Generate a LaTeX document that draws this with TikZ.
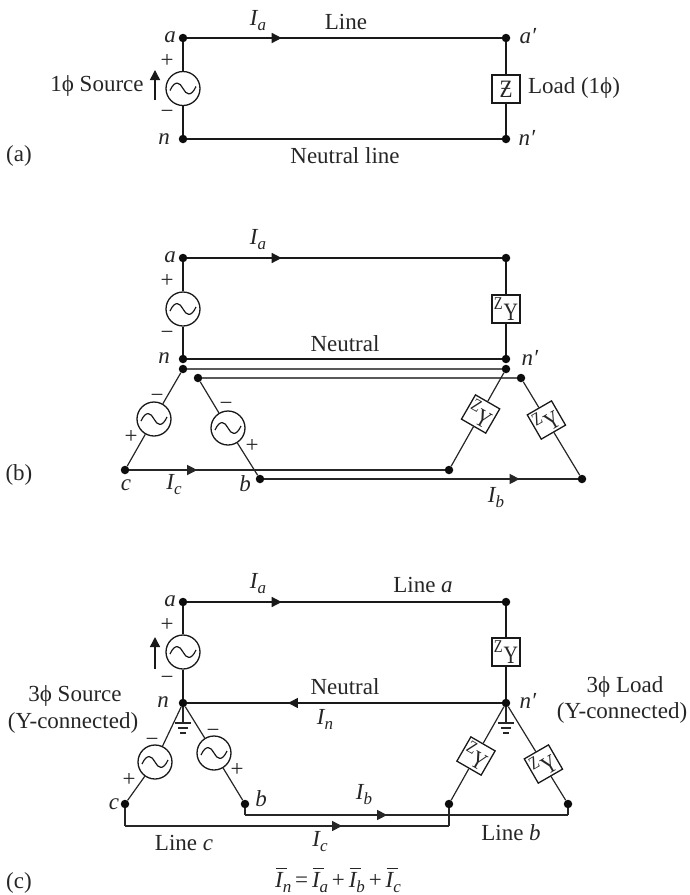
\documentclass[tikz,border=0pt]{standalone}
\usepackage{fontspec}
\setmainfont{Liberation Serif}
\usetikzlibrary{arrows.meta,decorations.markings}
\newcommand\subtxt[1]{\raisebox{-5pt}{\fontsize{17}{17}\selectfont\itshape #1}}
\newcommand\Isub[1]{{\itshape I}\subtxt{#1}}
\newcommand\Ibar[1]{\leavevmode\rlap{\raisebox{18pt}{\kern1pt\rule{11pt}{1pt}}}{\itshape I}\subtxt{#1}}
\newcommand\phisym{ϕ}
\tikzset{
  x=1pt,y=-1pt,
  wire/.style={line width=1.5pt,black!90},
  thin wire/.style={line width=1.2pt,black!85},
  gray wire/.style={line width=1.4pt,black!65},
  dotn/.style={circle,fill=black!95,draw=none,minimum size=8.5pt,inner sep=0pt},
  lbl/.style={inner sep=0pt,text=black!85,font=\fontsize{23}{26}\selectfont,align=center},
  src/.style={circle,draw=black!90,line width=1.3pt,minimum size=34pt,inner sep=0pt,
    path picture={\draw[line width=1.2pt,black!90,shift={(path picture bounding box.center)}]
      (-13,2) .. controls (-8,-9) and (-3,-6) .. (0,0) .. controls (3,6) and (8,9) .. (13,-2);}},
  zbox/.style={rectangle,draw=black!90,line width=1.3pt,minimum size=28pt,inner sep=0pt,
    text=black!85,font=\fontsize{25}{25}\selectfont},
  midarrow/.style={postaction={decorate},decoration={markings,
    mark=at position #1 with {\arrow{Triangle[length=10pt,width=10pt]}}}},
  uparrow/.style={line width=1.5pt,black!90,-{Triangle[length=10pt,width=10pt]}},
}
\newcommand\zy{\raisebox{11pt}{\fontsize{18}{18}\selectfont\scalebox{0.8}[1]{Z}}\kern1pt\scalebox{0.8}[1]{Y}}
\begin{document}
\begin{tikzpicture}
\useasboundingbox (0,0) rectangle (689,895);
%% (a)
\node[dotn] (aa) at (183,38) {};
\node[dotn] (an) at (183,139) {};
\node[dotn] (aap) at (506,38) {};
\node[dotn] (anp) at (506,139) {};
\node[src] (as) at (183,88.5) {};
\node[zbox] (az) at (506,89) {\scalebox{0.85}[1]{Ƶ}};
\draw[wire] (aa) -- (as) -- (an);
\draw[wire] (aap) -- (az) -- (anp);
\draw[wire,midarrow=0.30] (aa) -- (aap);
\draw[wire] (an) -- (anp);
\coordinate (ar1) at (155,100); \coordinate (ar2) at (155,70);
\draw[uparrow] (ar1) -- (ar2);
\node[lbl] (t1) at (170,37) {\itshape a};
\node[lbl] (t2) at (164,139) {\itshape n};
\node[lbl] (t3) at (528,36) {\itshape a′};
\node[lbl] (t4) at (527,138) {\itshape n′};
\node[lbl] (t5) at (167,61) {+};
\node[lbl] (t6) at (167,114) {−};
\node[lbl] (t7) at (97,86) {1\phisym\ Source};
\node[lbl] (t8) at (574,88) {Load (1\phisym)};
\node[lbl] (t9) at (258,21) {\Isub{a}};
\node[lbl] (t10) at (346,22) {Line};
\node[lbl] (t11) at (345,156) {Neutral line};
\node[lbl] (t12) at (19,156) {(a)};
%% (b)
\node[dotn] (ba) at (183,258) {};
\node[dotn] (bn) at (183,359) {};
\node[dotn] (bn2) at (183,369) {};
\node[dotn] (bn3) at (198,378) {};
\node[dotn] (bc) at (125,470) {};
\node[dotn] (bb) at (260,479) {};
\node[dotn] (bap) at (506,258) {};
\node[dotn] (bnp) at (506,359) {};
\node[dotn] (bnp2) at (506,369) {};
\node[dotn] (bnp3) at (521,378) {};
\node[dotn] (bl1) at (449,470) {};
\node[dotn] (bl2) at (582,479) {};
\node[src] (bsa) at (183,309) {};
\node[src] (bsc) at (154,419) {};
\node[src] (bsb) at (228,428) {};
\node[zbox] (bza) at (506,309) {\zy};
\node[zbox,rotate=-30] (bzc) at (480.6,414) {\zy};
\node[zbox,rotate=30] (bzb) at (546.4,420) {\zy};
\draw[wire] (ba) -- (bsa) -- (bn);
\draw[wire] (bap) -- (bza) -- (bnp);
\draw[wire,midarrow=0.30] (ba) -- (bap);
\draw[wire] (bn) -- (bnp);
\draw[gray wire] (bn2) -- (bnp2);
\draw[gray wire] (bn3) -- (bnp3);
\draw[thin wire] (bn2) -- (bsc) -- (bc);
\draw[thin wire] (bn3) -- (bsb) -- (bb);
\draw[thin wire] (bnp2) -- (bzc) -- (bl1);
\draw[thin wire] (bnp3) -- (bzb) -- (bl2);
\draw[thin wire,midarrow=0.215] (bc) -- (bl1);
\draw[thin wire,midarrow=0.815] (bb) -- (bl2);
\node[lbl] (u1) at (170,257) {\itshape a};
\node[lbl] (u2) at (164,358) {\itshape n};
\node[lbl] (u3) at (167,281) {+};
\node[lbl] (u4) at (167,335) {−};
\node[lbl] (u5) at (530,358) {\itshape n′};
\node[lbl] (u6) at (258,240) {\Isub{a}};
\node[lbl] (u7) at (345,344) {Neutral};
\node[lbl] (u8) at (157,398) {−};
\node[lbl] (u9) at (131,437) {+};
\node[lbl] (u10) at (226,406) {−};
\node[lbl] (u11) at (252,446) {+};
\node[lbl] (u12) at (126,485) {\itshape c};
\node[lbl] (u13) at (174,485) {\Isub{c}};
\node[lbl] (u14) at (245,484) {\itshape b};
\node[lbl] (u15) at (496,498) {\Isub{b}};
\node[lbl] (u16) at (19,475) {(b)};
%% (c)
\node[dotn] (ca) at (183,602) {};
\node[dotn] (cn) at (183,703) {};
\node[dotn] (cc) at (125,804) {};
\node[dotn] (cb) at (245,804) {};
\node[dotn] (cap) at (506,602) {};
\node[dotn] (cnp) at (506,703) {};
\node[dotn] (cl1) at (449,804) {};
\node[dotn] (cl2) at (568,804) {};
\node[src] (csa) at (183,652) {};
\node[src] (csc) at (155,762) {};
\node[src] (csb) at (214,753) {};
\node[zbox] (cza) at (506,652) {\zy};
\node[zbox,rotate=-30] (czc) at (476,756) {\zy};
\node[zbox,rotate=30] (czb) at (543.4,764) {\zy};
\draw[wire] (ca) -- (csa) -- (cn);
\draw[wire] (cap) -- (cza) -- (cnp);
\draw[wire,midarrow=0.30] (ca) -- (cap);
\draw[wire,midarrow=0.68] (cnp) -- (cn);
\draw[thin wire] (cn) -- (csc) -- (cc);
\draw[thin wire] (cn) -- (csb) -- (cb);
\draw[thin wire] (cnp) -- (czc) -- (cl1);
\draw[thin wire] (cnp) -- (czb) -- (cl2);
\coordinate (cb1) at (245,815); \coordinate (cb2) at (568,815);
\coordinate (cc1) at (125,826); \coordinate (cc2) at (449,826);
\draw[thin wire] (cb) -- (cb1);
\draw[thin wire,midarrow=0.44] (cb1) -- (cb2);
\draw[thin wire] (cb2) -- (cl2);
\draw[thin wire] (cc) -- (cc1);
\draw[thin wire,midarrow=0.67] (cc1) -- (cc2);
\draw[thin wire] (cc2) -- (cl1);
\coordinate (g1) at (183,723); \coordinate (g2) at (183,728); \coordinate (g3) at (183,733);
\coordinate (h1) at (506,723); \coordinate (h2) at (506,728); \coordinate (h3) at (506,733);
\draw[thin wire] (cn) -- (g1);
\draw[thin wire] (cnp) -- (h1);
\foreach \g/\w in {g1/8,g2/5,g3/3,h1/8,h2/5,h3/3}
  \draw[thin wire] ([xshift=-\w pt]\g) -- ([xshift=\w pt]\g);
\coordinate (cr1) at (155,669); \coordinate (cr2) at (155,637);
\draw[uparrow] (cr1) -- (cr2);
\node[lbl] (v1) at (170,601) {\itshape a};
\node[lbl] (v2) at (163,702) {\itshape n};
\node[lbl] (v3) at (167,625) {+};
\node[lbl] (v4) at (167,680) {−};
\node[lbl] (v5) at (528,701) {\itshape n′};
\node[lbl] (v6) at (258,584) {\Isub{a}};
\node[lbl] (v7) at (423,585) {Line {\itshape a}};
\node[lbl] (v8) at (345,687) {Neutral};
\node[lbl] (v9) at (325,719) {\Isub{n}};
\node[lbl] (v10) at (75,696) {3\phisym\ Source};
\node[lbl] (v11) at (73,723) {(Y-connected)};
\node[lbl] (v12) at (625,687) {3\phisym\ Load};
\node[lbl] (v13) at (622,713) {(Y-connected)};
\node[lbl] (v14) at (152,742) {−};
\node[lbl] (v15) at (129,780) {+};
\node[lbl] (v16) at (213,733) {−};
\node[lbl] (v17) at (237,770) {+};
\node[lbl] (v18) at (114,804) {\itshape c};
\node[lbl] (v19) at (261,799) {\itshape b};
\node[lbl] (v20) at (364,795) {\Isub{b}};
\node[lbl] (v21) at (320,842) {\Isub{c}};
\node[lbl] (v22) at (184,843) {Line {\itshape c}};
\node[lbl] (v23) at (511,833) {Line {\itshape b}};
\node[lbl,anchor=base] (v24) at (338,887) {\Ibar{n}\,=\,\Ibar{a}\,+\,\Ibar{b}\,+\,\Ibar{c}};
\node[lbl] (v25) at (19,883) {(c)};
\end{tikzpicture}
\end{document}
